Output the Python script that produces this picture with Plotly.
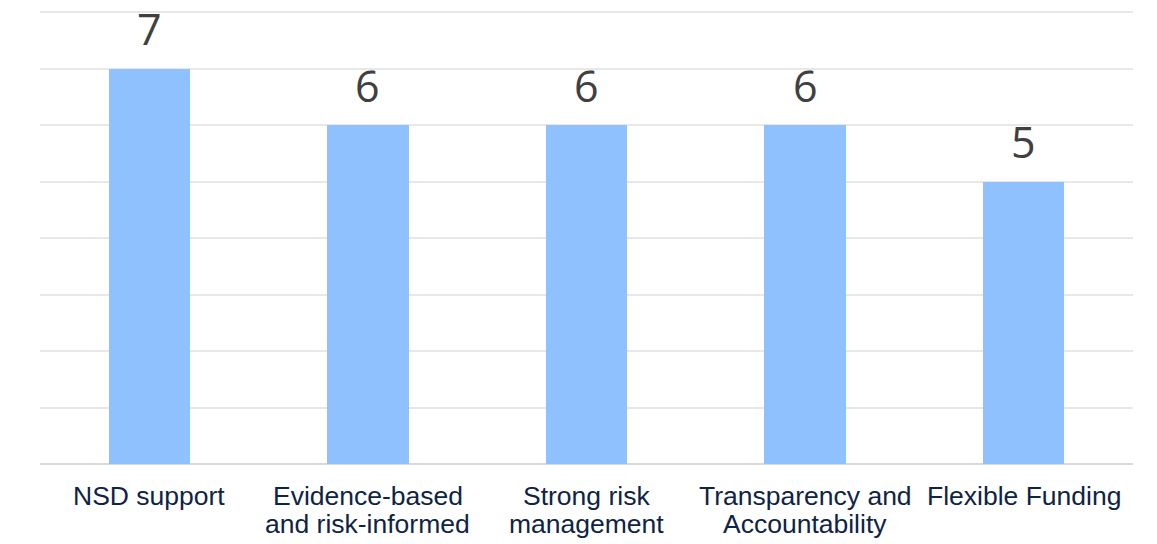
import plotly.graph_objects as go

categories = ["NSD support", "Evidence-based and risk-informed", "Strong risk management",
              "Transparency and Accountability", "Flexible Funding"]
label_lines = [["NSD support"], ["Evidence-based", "and risk-informed"], ["Strong risk", "management"],
               ["Transparency and", "Accountability"], ["Flexible Funding"]]
values = [7, 6, 6, 6, 5]

fig = go.Figure()
fig.add_trace(go.Bar(x=categories, y=values, marker=dict(color="#8FC1FF", line=dict(width=0)),
                     width=0.373, hoverinfo="skip"))

# value labels
for c, v in zip(categories, values):
    fig.add_annotation(x=c, y=v, xref="x", yref="y", text=str(v), showarrow=False,
                       yanchor="middle", yshift=40,
                       font=dict(family="Open Sans", size=43, color="#404040"))

# category labels (one annotation per line)
line_shifts = [-32, -60]
for c, lines in zip(categories, label_lines):
    for i, t in enumerate(lines):
        fig.add_annotation(x=c, y=0, xref="x", yref="y", text=t, showarrow=False,
                           yanchor="middle", yshift=line_shifts[i],
                           font=dict(family="Liberation Sans, Arial", size=26.5, color="#0E2445"))

fig.update_layout(
    width=1149, height=536,
    margin=dict(l=32, r=24, t=3, b=80),
    paper_bgcolor="white", plot_bgcolor="white",
    showlegend=False, bargap=0,
)
fig.update_xaxes(showticklabels=False, showgrid=False, showline=False, zeroline=False,
                 range=[-0.5, 4.5])
fig.update_yaxes(range=[0, 8.02], dtick=1, showticklabels=False, showgrid=True,
                 gridcolor="#E8E8E8", gridwidth=1.5, zeroline=True, zerolinecolor="#D9D9D9",
                 zerolinewidth=2, showline=False)

fig.write_html("out.html")
